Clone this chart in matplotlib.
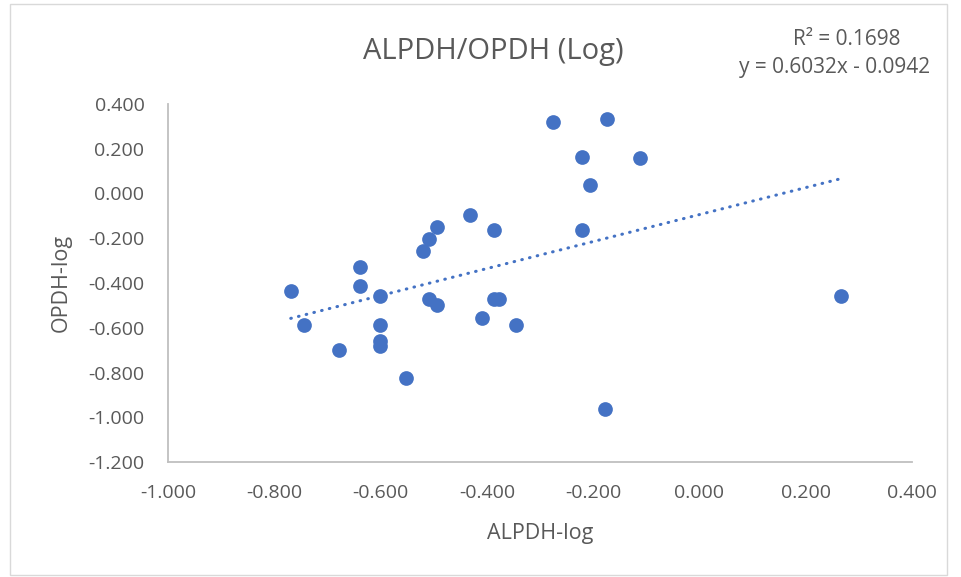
import numpy as np
import matplotlib
matplotlib.use("Agg")
import matplotlib.pyplot as plt
from matplotlib.patches import Rectangle

# Du lieu doc tu hinh
alpdh_log = [-0.276, -0.432, -0.494, -0.508, -0.521, -0.386, -0.638, -0.638,
             -0.769, -0.602, -0.508, -0.494, -0.386, -0.377, -0.409, -0.346,
             -0.745, -0.602, -0.602, -0.602, -0.678, -0.552, -0.173, -0.221,
             -0.112, -0.206, -0.221, 0.267, -0.178]
opdh_log = [0.318, -0.097, -0.151, -0.203, -0.256, -0.163, -0.328, -0.412,
            -0.434, -0.458, -0.472, -0.498, -0.472, -0.472, -0.555, -0.586,
            -0.586, -0.586, -0.658, -0.682, -0.701, -0.826, 0.334, 0.165,
            0.159, 0.038, -0.163, -0.458, -0.962]

# Duong xu huong (theo phuong trinh tren hinh)
he_so_a = 0.6032
he_so_b = -0.0942
r_binh_phuong = 0.1698

x_ticks = [-1.0, -0.8, -0.6, -0.4, -0.2, 0.0, 0.2, 0.4]
y_ticks = [0.4, 0.2, 0.0, -0.2, -0.4, -0.6, -0.8, -1.0, -1.2]

plt.rcParams['font.family'] = ['Open Sans', 'DejaVu Sans']
mau_chu = "#595959"
mau_truc = "#BFBFBF"
mau_diem = "#4472C4"

fig = plt.figure(figsize=(9.61, 5.77), dpi=100)
fig.patches.append(Rectangle((10 / 961, 0.003), 937 / 961, 0.99, transform=fig.transFigure,
                             fill=False, edgecolor="#D9D9D9", linewidth=1))

ax = fig.add_axes([168 / 961, 1 - 462 / 577, 744 / 961, 358 / 577])
ax.scatter(alpdh_log, opdh_log, s=112, color=mau_diem, zorder=3, linewidths=0)

x_tr = np.array([min(alpdh_log), max(alpdh_log)])
ax.plot(x_tr, he_so_a * x_tr + he_so_b, color=mau_diem, linewidth=2.2,
        linestyle=(0, (0.2, 2.4)), dash_capstyle="round", zorder=2)

ax.set_xlim(-1.0, 0.4)
ax.set_ylim(-1.2, 0.4)
ax.set_xticks(x_ticks)
ax.set_yticks(y_ticks)
ax.set_xticklabels([f"{v:.3f}" for v in x_ticks])
ax.set_yticklabels([f"{v:.3f}" for v in y_ticks])
ax.tick_params(length=0, labelsize=14, colors=mau_chu)
ax.tick_params(axis="y", pad=17)
ax.tick_params(axis="x", pad=16)

for s in ["top", "right"]:
    ax.spines[s].set_visible(False)
for s in ["left", "bottom"]:
    ax.spines[s].set_color(mau_truc)
    ax.spines[s].set_linewidth(1.3)

ax.set_xlabel("ALPDH-log", fontsize=15.5, color=mau_chu, va="center")
ax.set_ylabel("OPDH-log", fontsize=15.5, color=mau_chu, va="center")
ax.xaxis.set_label_coords(0.5, (462 - 534) / 358)
ax.yaxis.set_label_coords((61 - 168) / 744, 0.5)

fig.text(493 / 961, 1 - 59 / 577, "ALPDH/OPDH (Log)", fontsize=21, color=mau_chu,
         ha="center", va="baseline")
fig.text(847 / 961, 1 - 45 / 577, f"R² = {r_binh_phuong:.4f}", fontsize=15,
         color=mau_chu, ha="center", va="baseline")
fig.text(835 / 961, 1 - 73 / 577, f"y = {he_so_a:.4f}x - {abs(he_so_b):.4f}",
         fontsize=15, color=mau_chu, ha="center", va="baseline")

fig.savefig("out.png", dpi=100)
